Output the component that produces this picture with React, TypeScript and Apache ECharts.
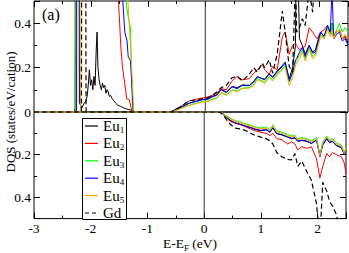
import { useEffect, useRef } from "react";
import * as echarts from "echarts";

const FONT = "'Liberation Serif', 'Times New Roman', Times, serif";

const SERIES_NAMES = ["Eu1", "Eu2", "Eu3", "Eu4", "Eu5", "Gd"];
const LEGEND_MAIN = ["Eu", "Eu", "Eu", "Eu", "Eu", "Gd"];
const LEGEND_SUB = ["1", "2", "3", "4", "5", ""];
const COLORS = ["#000000", "#ff0000", "#00ff00", "#0000ff", "#ffa500", "#000000"];

const X_TICKS = [-3, -2, -1, 0, 1, 2];
const Y_TICKS = [0, 0.2, 0.4];
const E_FERMI = 0;

// low-energy (4f) region, spin up: [E, DOS]
const eu1Core = [[-3, 0], [-2.29, 0], [-2.28, 0.02], [-2.272, 1.5], [-2.215, 1.5], [-2.205, 0.04], [-2.16, 0.02], [-2.12, 0.04], [-2.09, 0.05], [-2.07, 0.07], [-2.05, 0.12], [-2.03, 0.19], [-2.01, 0.12], [-1.99, 0.145], [-1.97, 0.1], [-1.95, 0.16], [-1.93, 0.12], [-1.91, 0.28], [-1.895, 0.36], [-1.88, 0.2], [-1.86, 0.145], [-1.84, 0.12], [-1.82, 0.1], [-1.8, 0.13], [-1.78, 0.11], [-1.76, 0.12], [-1.74, 0.085], [-1.72, 0.1], [-1.7, 0.09], [-1.68, 0.07], [-1.66, 0.075], [-1.63, 0.06], [-1.6, 0.05], [-1.57, 0.04], [-1.53, 0.03], [-1.48, 0.025], [-1.44, 0.02], [-1.4, 0.015], [-1.35, 0.012], [-1.3, 0.008], [-1.25, 0]];
const eu2Core = [[-3, 0], [-2.27, 0], [-2.26, 1.5], [-1.545, 1.5], [-1.52, 0.5], [-1.5, 0.4], [-1.48, 0.3], [-1.45, 0.2], [-1.42, 0.145], [-1.39, 0.09], [-1.38, 0.06], [-1.33, 0.055], [-1.3, 0.02], [-1.28, 0]];
const eu3Core = [[-3, 0], [-2.27, 0], [-2.26, 1.5], [-1.4, 1.0], [-1.38, 0.48], [-1.345, 0.42], [-1.31, 0.38], [-1.275, 0]];
const eu4Core = [[-3, 0], [-2.255, 0], [-2.245, 1.5], [-1.48, 1.5], [-1.445, 0.5], [-1.41, 0.36], [-1.37, 0.32], [-1.35, 0.25], [-1.31, 0.23], [-1.26, 0]];
const eu5Core = [[-3, 0], [-2.19, 0], [-2.18, 0.15], [-2.17, 1.5], [-1.39, 1.5], [-1.355, 0.5], [-1.3, 0.25], [-1.25, 0]];
const gdCore = [[-3, 0], [-2.17, 0], [-2.158, 1.5], [-2.1, 1.5], [-2.088, 0]];

// conduction region, spin up
const E_UP = [-0.6, -0.5, -0.4, -0.28, -0.15, -0.05, 0.05, 0.12, 0.2, 0.28, 0.37, 0.47, 0.56, 0.65, 0.77, 0.85, 0.91, 1.0, 1.04, 1.12, 1.18, 1.26, 1.35, 1.4, 1.47, 1.53, 1.58, 1.6, 1.65, 1.7, 1.75, 1.82, 1.88, 1.93, 1.96, 2.02, 2.08, 2.14, 2.19, 2.22, 2.25, 2.3, 2.35, 2.4, 2.45, 2.5];
const eu1Up = [0, 0.014, 0.024, 0.04, 0.05, 0.056, 0.06, 0.07, 0.078, 0.102, 0.09, 0.115, 0.11, 0.122, 0.12, 0.138, 0.158, 0.15, 0.148, 0.172, 0.158, 0.185, 0.21, 0.225, 0.15, 0.2, 0.3, 0.9, 0.33, 0.3, 0.26, 0.3, 0.27, 0.28, 0.31, 0.36, 0.34, 0.38, 0.36, 0.4, 0.34, 0.36, 0.37, 0.33, 0.34, 0.31];
const eu2Up = [0, 0.015, 0.03, 0.05, 0.058, 0.063, 0.068, 0.075, 0.085, 0.105, 0.1, 0.14, 0.16, 0.145, 0.15, 0.175, 0.19, 0.215, 0.19, 0.17, 0.205, 0.19, 0.34, 0.36, 0.26, 0.3, 0.31, 0.3, 0.28, 0.29, 0.295, 0.38, 0.36, 0.34, 0.33, 0.36, 0.37, 0.39, 0.36, 0.35, 0.34, 0.36, 0.37, 0.33, 0.34, 0.32];
const eu3Up = [0, 0.01, 0.02, 0.032, 0.04, 0.047, 0.05, 0.058, 0.065, 0.088, 0.078, 0.1, 0.095, 0.108, 0.11, 0.125, 0.15, 0.14, 0.135, 0.16, 0.145, 0.17, 0.195, 0.21, 0.135, 0.17, 0.225, 0.235, 0.255, 0.28, 0.24, 0.29, 0.25, 0.26, 0.29, 0.35, 0.33, 0.38, 0.35, 0.4, 0.34, 0.37, 0.4, 0.36, 0.38, 0.36];
const eu4Up = [0, 0.015, 0.025, 0.04, 0.048, 0.055, 0.058, 0.068, 0.075, 0.1, 0.087, 0.113, 0.105, 0.12, 0.118, 0.135, 0.16, 0.15, 0.145, 0.17, 0.155, 0.18, 0.205, 0.22, 0.14, 0.18, 0.235, 0.24, 0.27, 0.29, 0.25, 0.3, 0.265, 0.27, 0.3, 0.36, 0.34, 0.39, 0.36, 0.55, 0.33, 0.35, 0.36, 0.32, 0.33, 0.3];
const eu5Up = [0, 0.008, 0.018, 0.03, 0.038, 0.045, 0.048, 0.055, 0.062, 0.085, 0.075, 0.097, 0.092, 0.105, 0.108, 0.12, 0.145, 0.135, 0.128, 0.155, 0.14, 0.165, 0.19, 0.2, 0.12, 0.155, 0.21, 0.22, 0.24, 0.27, 0.23, 0.28, 0.24, 0.25, 0.28, 0.34, 0.33, 0.37, 0.34, 0.37, 0.33, 0.36, 0.37, 0.33, 0.35, 0.33];
const gdUp = [0, 0.012, 0.03, 0.05, 0.055, 0.06, 0.065, 0.075, 0.09, 0.11, 0.12, 0.155, 0.16, 0.14, 0.17, 0.2, 0.18, 0.22, 0.2, 0.235, 0.175, 0.26, 0.455, 0.36, 0.205, 0.18, 0.6, 0.36, 0.38, 0.42, 0.39, 0.55, 0.45, 0.65, 0.7, 0.7, 0.7, 0.7, 0.7, 0.7, 0.7, 0.7, 0.7, 0.7, 0.7, 0.7];

// spin down (plotted downwards)
const E_DN = [0.25, 0.3, 0.37, 0.42, 0.47, 0.54, 0.65, 0.72, 0.82, 0.9, 1.0, 1.09, 1.16, 1.21, 1.28, 1.37, 1.47, 1.54, 1.6, 1.65, 1.72, 1.81, 1.89, 1.98, 2.04, 2.09, 2.16, 2.21, 2.26, 2.33, 2.42, 2.47, 2.5];
const eu1Dn = [0, 0, 0.021, 0.032, 0.042, 0.052, 0.06, 0.067, 0.074, 0.082, 0.088, 0.084, 0.095, 0.075, 0.102, 0.108, 0.118, 0.125, 0.122, 0.138, 0.134, 0.138, 0.148, 0.132, 0.205, 0.155, 0.126, 0.144, 0.138, 0.158, 0.168, 0.198, 0.18];
const eu2Dn = [0, 0, 0.02, 0.035, 0.045, 0.05, 0.06, 0.068, 0.08, 0.088, 0.095, 0.1, 0.11, 0.1, 0.125, 0.13, 0.15, 0.14, 0.15, 0.178, 0.163, 0.17, 0.163, 0.22, 0.31, 0.255, 0.195, 0.21, 0.19, 0.2, 0.21, 0.24, 0.29];
const eu3Dn = [0, 0, 0.015, 0.022, 0.03, 0.04, 0.048, 0.055, 0.062, 0.07, 0.075, 0.07, 0.083, 0.06, 0.088, 0.095, 0.105, 0.112, 0.11, 0.125, 0.12, 0.125, 0.135, 0.12, 0.2, 0.14, 0.112, 0.13, 0.125, 0.145, 0.155, 0.19, 0.165];
const eu4Dn = [0, 0, 0.02, 0.03, 0.04, 0.05, 0.058, 0.065, 0.072, 0.08, 0.086, 0.082, 0.093, 0.072, 0.1, 0.106, 0.116, 0.123, 0.12, 0.136, 0.132, 0.136, 0.146, 0.13, 0.21, 0.152, 0.124, 0.142, 0.136, 0.156, 0.166, 0.2, 0.178];
const eu5Dn = [0, 0, 0.017, 0.025, 0.034, 0.044, 0.052, 0.059, 0.066, 0.074, 0.079, 0.075, 0.087, 0.065, 0.092, 0.1, 0.11, 0.117, 0.115, 0.13, 0.125, 0.13, 0.14, 0.125, 0.205, 0.145, 0.117, 0.135, 0.13, 0.15, 0.16, 0.195, 0.17];
const gdDn = [0, 0.005, 0.027, 0.045, 0.06, 0.075, 0.08, 0.086, 0.1, 0.11, 0.118, 0.125, 0.135, 0.15, 0.19, 0.21, 0.222, 0.225, 0.195, 0.255, 0.23, 0.28, 0.32, 0.43, 0.6, 0.33, 0.37, 0.42, 0.44, 0.48, 0.6, 0.7, 0.7];

const CORES = [eu1Core, eu2Core, eu3Core, eu4Core, eu5Core, gdCore];
const UPS = [eu1Up, eu2Up, eu3Up, eu4Up, eu5Up, gdUp];
const DNS = [eu1Dn, eu2Dn, eu3Dn, eu4Dn, eu5Dn, gdDn];

function measure(text: string, size: number): number {
  const ctx = document.createElement("canvas").getContext("2d");
  if (!ctx) return text.length * size * 0.55;
  ctx.font = `${size}px ${FONT}`;
  return ctx.measureText(text).width;
}

function buildOption() {
  const tickStyle = { color: "#000", width: 1 };
  const xAx = (grid: number, pos: string, interval: number, len: number, labels: boolean) => ({
    type: "value",
    gridIndex: grid,
    position: pos,
    min: -3,
    max: 2.5,
    interval,
    axisLine: { show: false, onZero: false },
    axisTick: { show: true, inside: true, length: len, lineStyle: tickStyle },
    splitLine: { show: false },
    axisLabel: labels
      ? {
          show: true,
          margin: 3,
          fontFamily: FONT,
          fontSize: 13.5,
          color: "#000",
          formatter: (v: number) => (X_TICKS.some((t) => Math.abs(t - v) < 1e-9) ? String(v) : ""),
        }
      : { show: false },
    ...(labels
      ? {
          name: "{a|E-E}{s|F}{a| (eV)}",
          nameLocation: "middle",
          nameGap: 15,
          nameTextStyle: {
            fontFamily: FONT,
            rich: {
              a: { fontFamily: FONT, fontSize: 13.5, color: "#000" },
              s: { fontFamily: FONT, fontSize: 9, color: "#000", padding: [8, 0, 0, 0] },
            },
          },
        }
      : {}),
  });
  const yAx = (grid: number, pos: string, interval: number, len: number, labels: boolean, inverse: boolean) => ({
    type: "value",
    gridIndex: grid,
    position: pos,
    min: 0,
    max: 0.5,
    interval,
    inverse,
    axisLine: { show: false, onZero: false },
    axisTick: { show: true, inside: true, length: len, lineStyle: tickStyle },
    splitLine: { show: false },
    axisLabel: labels
      ? {
          show: true,
          margin: 3,
          fontFamily: FONT,
          fontSize: 13.5,
          color: "#000",
          formatter: (v: number) =>
            Y_TICKS.some((t) => Math.abs(t - v) < 1e-9) && !(inverse && v === 0) ? String(v) : "",
        }
      : { show: false },
  });

  const series: any[] = [];
  series.push({
    type: "line", xAxisIndex: 0, yAxisIndex: 0, silent: true, symbol: "none",
    data: [[E_FERMI, 0], [E_FERMI, 0.5]], lineStyle: { color: "#333", width: 1 }, z: 1,
  });
  series.push({
    type: "line", xAxisIndex: 2, yAxisIndex: 4, silent: true, symbol: "none",
    data: [[E_FERMI, 0], [E_FERMI, 0.5]], lineStyle: { color: "#333", width: 1 }, z: 1,
  });
  SERIES_NAMES.forEach((name, i) => {
    const dashed = name === "Gd";
    const lineStyle = { color: COLORS[i], width: dashed ? 1.2 : 1, type: dashed ? [5, 3] : "solid" };
    const up = [...CORES[i], ...E_UP.map((e, k) => [e, UPS[i][k]])];
    const dn = [[-3, 0], ...E_DN.map((e, k) => [e, DNS[i][k]])];
    series.push({ name, type: "line", xAxisIndex: 0, yAxisIndex: 0, symbol: "none", data: up, lineStyle, z: 2 + i, clip: true });
    series.push({ name, type: "line", xAxisIndex: 2, yAxisIndex: 4, symbol: "none", data: dn, lineStyle, z: 2 + i, clip: true });
  });

  const graphics: any[] = [
    {
      type: "text", x: 42, y: 14, z: 100,
      style: { text: "(a)", fontFamily: FONT, fontSize: 16, fill: "#000", align: "left", verticalAlign: "middle" },
    },
    {
      type: "text", x: 10, y: 112, rotation: Math.PI / 2, z: 100,
      style: { text: "DOS (states/eV/cation)", fontFamily: FONT, fontSize: 13, fill: "#000", align: "center", verticalAlign: "middle" },
    },
    {
      type: "rect", z: 100,
      shape: { x: 82.5, y: 118.5, width: 44, height: 101 },
      style: { fill: "#fff", stroke: "#000", lineWidth: 1 },
    },
  ];
  const mainW = measure("Eu", 15);
  SERIES_NAMES.forEach((name, i) => {
    const cy = 126 + i * 17.4;
    const dashed = name === "Gd";
    graphics.push({
      type: "line", z: 101,
      shape: { x1: 85, y1: cy, x2: 98, y2: cy },
      style: { stroke: COLORS[i], lineWidth: 1.2, lineDash: dashed ? [4, 3] : null },
    });
    graphics.push({
      type: "text", x: 103, y: cy, z: 101,
      style: { text: LEGEND_MAIN[i], fontFamily: FONT, fontSize: 15, fill: "#000", align: "left", verticalAlign: "middle" },
    });
    if (LEGEND_SUB[i]) {
      graphics.push({
        type: "text", x: 103 + mainW, y: cy + 4, z: 101,
        style: { text: LEGEND_SUB[i], fontFamily: FONT, fontSize: 9, fill: "#000", align: "left", verticalAlign: "middle" },
      });
    }
  });

  return {
    animation: false,
    backgroundColor: "#fff",
    textStyle: { fontFamily: FONT },
    grid: [
      { left: 34, top: 1, width: 314, height: 111, show: true, borderColor: "#000", borderWidth: 1, backgroundColor: "transparent" },
      { left: 34, top: 112, width: 314, height: 110, show: true, borderColor: "#000", borderWidth: 1, backgroundColor: "transparent" },
    ],
    xAxis: [
      xAx(0, "top", 1, 6, false),
      xAx(0, "top", 0.5, 3, false),
      xAx(1, "bottom", 1, 6, true),
      xAx(1, "bottom", 0.5, 3, false),
    ],
    yAxis: [
      yAx(0, "left", 0.2, 6, true, false),
      yAx(0, "left", 0.1, 3, false, false),
      yAx(0, "right", 0.2, 6, false, false),
      yAx(0, "right", 0.1, 3, false, false),
      yAx(1, "left", 0.2, 6, true, true),
      yAx(1, "left", 0.1, 3, false, true),
      yAx(1, "right", 0.2, 6, false, true),
      yAx(1, "right", 0.1, 3, false, true),
    ],
    series,
    graphic: graphics,
  };
}

export default function App() {
  const ref = useRef<HTMLDivElement>(null);
  useEffect(() => {
    if (!ref.current) return;
    const chart = echarts.init(ref.current, null, { renderer: "svg" });
    chart.setOption(buildOption() as any);
    return () => chart.dispose();
  }, []);
  return <div ref={ref} style={{ position: "absolute", left: 0, top: 0, width: 349, height: 253 }} />;
}
